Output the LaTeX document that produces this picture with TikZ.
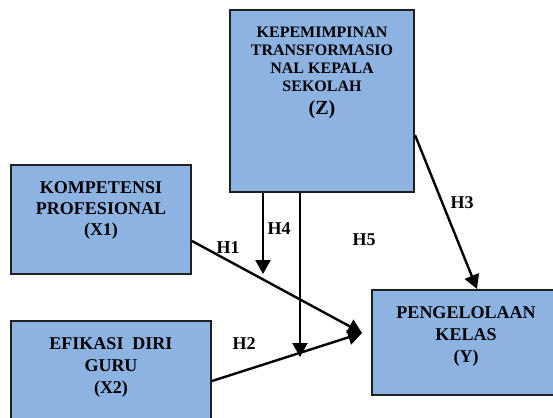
\documentclass[tikz,border=0pt]{standalone}
\usepackage{fontspec}
\setmainfont{Liberation Serif}
\usetikzlibrary{arrows.meta}
\definecolor{boxblue}{HTML}{8DB3E2}
\definecolor{boxline}{HTML}{1F1F1F}

% box content: width, height, text (top aligned)
\newcommand{\vartext}[3]{\parbox[c][#2][t]{#1}{\centering\vspace*{17pt}#3}}

\begin{document}
\begin{tikzpicture}[x=1pt, y=-1pt,
    var/.style={draw=boxline, line width=2pt, fill=boxblue, inner sep=0pt, font=\bfseries},
    hyp/.style={font=\fontsize{18}{20}\selectfont\bfseries, inner sep=1pt},
    link/.style={line width=2.4pt, -{Triangle[length=14pt, width=15pt]}},
  ]
  \useasboundingbox (0,0) rectangle (553,417);
  \clip (0,0) rectangle (553,417);

  % ---- variables ----
  \node[var] (Z) at (322,101) {\vartext{184pt}{182pt}{\fontsize{16}{18}\selectfont
      KEPEMIMPINAN\\ TRANSFORMASIO\\ NAL KEPALA\\ SEKOLAH\par
      {\fontsize{20}{23}\selectfont (Z)\par}}};
  \node[var] (X1) at (101,219.5) {\vartext{180pt}{109pt}{\fontsize{18}{21}\selectfont
      KOMPETENSI\\ PROFESIONAL\\ (X1)}};
  \node[var] (X2) at (111,381) {\vartext{200pt}{120pt}{\fontsize{18}{22}\selectfont
      EFIKASI\ \ DIRI\\ GURU\\ (X2)}};
  \node[var] (Y) at (466,342.5) {\vartext{188pt}{105pt}{\fontsize{18}{22}\selectfont
      PENGELOLAAN\\ KELAS\\ (Y)}};

  % ---- arrow ends ----
  \coordinate (meet) at (362,333);
  \coordinate (h4end) at (263,274);
  \coordinate (h5end) at (300,357);

  % ---- paths ----
  \draw[link] ([yshift=-21.5pt]X1.east) -- (meet);
  \draw[link] (X2.east) -- (meet);
  \draw[link] ([yshift=-34pt]Z.east) -- ([xshift=11pt]Y.north);
  \draw[link] ([xshift=-59pt]Z.south) -- (h4end);
  \draw[link] ([xshift=-22pt]Z.south) -- (h5end);

  % ---- hypothesis labels ----
  \node[hyp] (H1) at (228,248) {H1};
  \node[hyp] (H2) at (244,344) {H2};
  \node[hyp] (H3) at (462,203) {H3};
  \node[hyp] (H4) at (279,229) {H4};
  \node[hyp] (H5) at (364,240) {H5};

\end{tikzpicture}
\end{document}
